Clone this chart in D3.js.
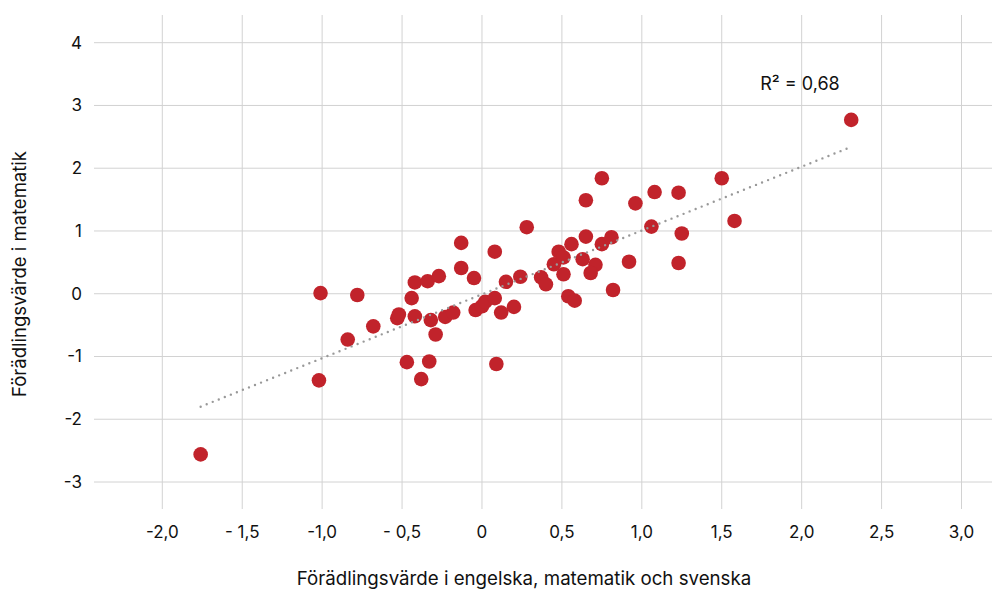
<!DOCTYPE html>
<html>
<head>
<meta charset="utf-8">
<script src="https://cdn.jsdelivr.net/npm/d3@7"></script>
<style>
  body { margin: 0; background: #fff; }
  svg { display: block; font-family: Inter, "Noto Sans", sans-serif; }
</style>
</head>
<body>
<svg id="chart" width="992" height="590"></svg>
<script>
// values
const xVals = [-1.76, -1.01, -0.78, -0.84, -0.68, -1.02, -0.53, -0.52, -0.42, -0.44,
  -0.42, -0.34, -0.27, -0.32, -0.29, -0.47, -0.33, -0.38, -0.23, -0.18,
  -0.13, -0.13, -0.05, 0.08, 0.28, -0.04, 0.00, 0.02, 0.08, 0.12,
  0.20, 0.09, 0.15, 0.24, 0.37, 0.40, 0.54, 0.58, 0.45, 0.48,
  0.51, 0.51, 0.56, 0.63, 0.65, 0.65, 0.75, 0.71, 0.68, 0.75,
  0.81, 0.82, 0.92, 0.96, 1.08, 1.06, 1.23, 1.25, 1.23, 1.50,
  1.58, 2.31];
const yVals = [-2.56, 0.01, -0.02, -0.73, -0.52, -1.38, -0.39, -0.33, -0.36, -0.07,
  0.18, 0.20, 0.28, -0.42, -0.65, -1.09, -1.08, -1.36, -0.37, -0.30,
  0.81, 0.41, 0.25, 0.67, 1.06, -0.26, -0.20, -0.13, -0.07, -0.30,
  -0.21, -1.12, 0.19, 0.27, 0.26, 0.15, -0.04, -0.11, 0.47, 0.67,
  0.58, 0.31, 0.79, 0.55, 0.91, 1.49, 1.84, 0.46, 0.33, 0.79,
  0.90, 0.06, 0.51, 1.44, 1.62, 1.07, 1.61, 0.96, 0.49, 1.84,
  1.16, 2.77];

const trendX = [-1.76, 2.31];
const trendY = [-1.80, 2.34];

const xTicks = [-2, -1.5, -1, -0.5, 0, 0.5, 1, 1.5, 2, 2.5, 3];
const xTickLabels = ["-2,0", "- 1,5", "-1,0", "- 0,5", "0", "0,5", "1,0", "1,5", "2,0", "2,5", "3,0"];
const yTicks = [4, 3, 2, 1, 0, -1, -2, -3];
const yTickLabels = ["4", "3", "2", "1", "0", "-1", "-2", "-3"];

const xTitle = "Förädlingsvärde i engelska, matematik och svenska";
const yTitle = "Förädlingsvärde i matematik";
const r2Label = "R² = 0,68";

const svg = d3.select("#chart");

const x = d3.scaleLinear().domain([-2, 3]).range([162.3, 961.5]);
const y = d3.scaleLinear().domain([-3, 4]).range([482, 42.7]);

const gridColor = "#d2d2d2";

// horizontal grid
svg.append("g").selectAll("line")
  .data(yTicks)
  .enter()
  .append("line")
  .attr("x1", 94)
  .attr("x2", 992)
  .attr("y1", d => y(d))
  .attr("y2", d => y(d))
  .style("stroke", gridColor)
  .style("stroke-width", 1);

// vertical grid
svg.append("g").selectAll("line")
  .data(xTicks)
  .enter()
  .append("line")
  .attr("x1", d => x(d))
  .attr("x2", d => x(d))
  .attr("y1", 15)
  .attr("y2", 509)
  .style("stroke", gridColor)
  .style("stroke-width", 1);

// tick labels
svg.append("g").selectAll("text")
  .data(yTicks)
  .enter()
  .append("text")
  .attr("x", 82)
  .attr("y", d => y(d))
  .attr("dy", "0.35em")
  .attr("text-anchor", "end")
  .style("font-size", "17px")
  .style("fill", "#111")
  .text((d, i) => yTickLabels[i]);

svg.append("g").selectAll("text")
  .data(xTicks)
  .enter()
  .append("text")
  .attr("x", d => x(d))
  .attr("y", 532)
  .attr("dy", "0.35em")
  .attr("text-anchor", "middle")
  .style("font-size", "17px")
  .style("fill", "#111")
  .text((d, i) => xTickLabels[i]);

// axis titles
svg.append("text")
  .attr("x", 524)
  .attr("y", 578)
  .attr("dy", "0.35em")
  .attr("text-anchor", "middle")
  .style("font-size", "18.7px")
  .style("fill", "#111")
  .text(xTitle);

svg.append("text")
  .attr("transform", "translate(20,274) rotate(-90)")
  .attr("dy", "0.35em")
  .attr("text-anchor", "middle")
  .style("font-size", "18.5px")
  .style("fill", "#111")
  .text(yTitle);

// dots
const pts = xVals.map((v, i) => ({x: v, y: yVals[i]}));
svg.append("g").selectAll("circle")
  .data(pts)
  .enter()
  .append("circle")
  .attr("cx", d => x(d.x))
  .attr("cy", d => y(d.y))
  .attr("r", 7.3)
  .style("fill", "#c1232b");

// trend line (dotted)
svg.append("line")
  .attr("x1", x(trendX[0]))
  .attr("y1", y(trendY[0]))
  .attr("x2", x(trendX[1]))
  .attr("y2", y(trendY[1]))
  .style("stroke", "#999")
  .style("stroke-width", 2.4)
  .style("stroke-linecap", "round")
  .style("stroke-dasharray", "0 6.5");

svg.append("text")
  .attr("x", 800)
  .attr("y", 84)
  .attr("dy", "0.35em")
  .attr("text-anchor", "middle")
  .style("font-size", "18px")
  .style("fill", "#111")
  .text(r2Label);
</script>
</body>
</html>
